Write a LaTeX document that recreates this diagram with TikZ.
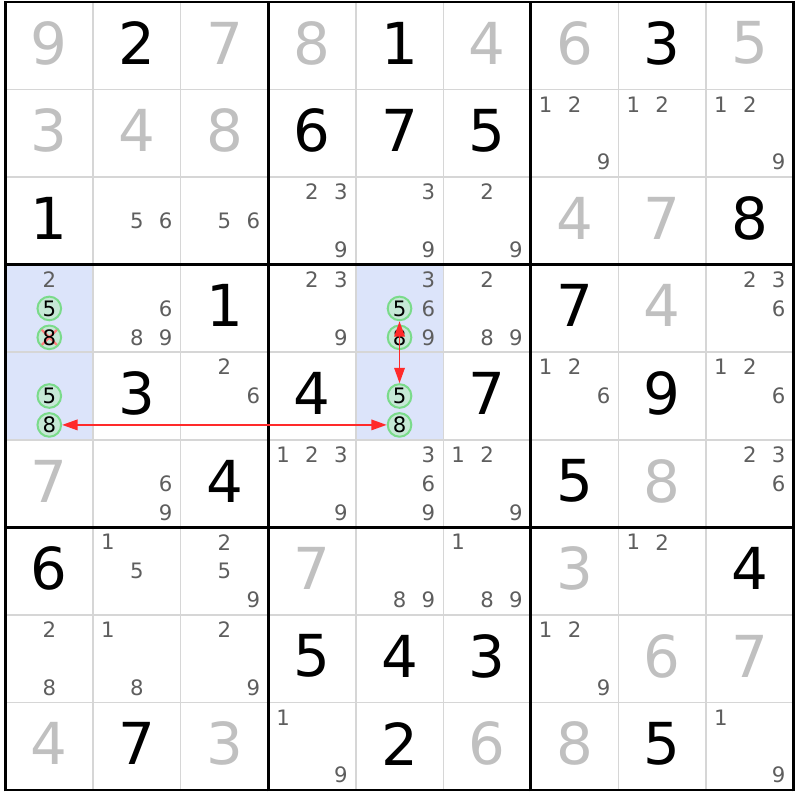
\documentclass[tikz,border=0pt]{standalone}
\usepackage{fontspec}
\setmainfont{DejaVu Sans}
\usetikzlibrary{arrows.meta}
\definecolor{hlblue}{HTML}{DCE4FA}
\definecolor{candgray}{HTML}{5E5E5E}
\definecolor{givengray}{HTML}{C0C0C0}
\definecolor{gridgray}{HTML}{D6D6D6}
\definecolor{ringgreen}{HTML}{7ADB8A}
\definecolor{ringfill}{HTML}{C6E8D6}
\definecolor{linkred}{HTML}{FF2A2A}

\begin{document}
\begin{tikzpicture}[x=1cm, y=1cm,
    digit/.style={font=\fontsize{18.8}{20}\selectfont, inner sep=0pt},
    cand/.style={font=\fontsize{6.9}{8}\selectfont, text=candgray, inner sep=0pt},
    ring/.style={circle, draw=ringgreen, fill=ringfill, line width=0.65pt,
      minimum size=0.27cm, inner sep=0pt, font=\fontsize{6.9}{8}\selectfont, text=black},
    gone/.style={path picture={
      \draw[linkred!60, line width=0.75pt]
        ([shift={(0.035,-0.035)}]path picture bounding box.north west) --
        ([shift={(-0.035,0.035)}]path picture bounding box.south east)
        ([shift={(0.035,0.035)}]path picture bounding box.south west) --
        ([shift={(-0.035,-0.035)}]path picture bounding box.north east);}},
    mark-418/.style={gone},
    link/.style={draw=linkred, line width=0.6pt,
      {Triangle[length=5pt,width=3.4pt]}-{Triangle[length=5pt,width=3.4pt]}}]
  % picture frame
  \useasboundingbox (-0.063,-0.114) rectangle (9.051,9.023);
  \fill[white] (-0.063,-0.114) rectangle (9.051,9.023);
  % highlighted cells
  \foreach \r/\c in {4/1,5/1,4/5,5/5}
    \fill[hlblue] (\c-1,9-\r) rectangle (\c,10-\r);
  % thin grid
  \foreach \i in {1,...,8} {
    \draw[gridgray, line width=0.5pt] (\i,0) -- (\i,9);
    \draw[gridgray, line width=0.5pt] (0,\i) -- (9,\i);
  }
  % box lines
  \foreach \i in {0,3,6,9} {
    \draw[black, line width=0.95pt] (\i,-0.016) -- (\i,9.016);
    \draw[black, line width=0.95pt] (-0.016,\i) -- (9.016,\i);
  }
  % given and solved digits
  \foreach \r/\c/\d/\col in {
      1/1/9/givengray, 1/2/2/black, 1/3/7/givengray, 1/4/8/givengray, 1/5/1/black,
      1/6/4/givengray, 1/7/6/givengray, 1/8/3/black, 1/9/5/givengray,
      2/1/3/givengray, 2/2/4/givengray, 2/3/8/givengray, 2/4/6/black, 2/5/7/black, 2/6/5/black,
      3/1/1/black, 3/7/4/givengray, 3/8/7/givengray, 3/9/8/black,
      4/3/1/black, 4/7/7/black, 4/8/4/givengray,
      5/2/3/black, 5/4/4/black, 5/6/7/black, 5/8/9/black,
      6/1/7/givengray, 6/3/4/black, 6/7/5/black, 6/8/8/givengray,
      7/1/6/black, 7/4/7/givengray, 7/7/3/givengray, 7/9/4/black,
      8/4/5/black, 8/5/4/black, 8/6/3/black, 8/8/6/givengray, 8/9/7/givengray,
      9/1/4/givengray, 9/2/7/black, 9/3/3/givengray, 9/5/2/black, 9/6/6/givengray,
      9/7/8/givengray, 9/8/5/black}
    \node[digit, text=\col] (d-\r-\c) at (\c-0.5, 9.53-\r) {\d};
  % pencil marks
  \foreach \r/\c/\ks in {
      2/7/{1,2,9}, 2/8/{1,2}, 2/9/{1,2,9},
      3/2/{5,6}, 3/3/{5,6}, 3/4/{2,3,9}, 3/5/{3,9}, 3/6/{2,9},
      4/1/{2}, 4/2/{6,8,9}, 4/4/{2,3,9}, 4/5/{3,6,9}, 4/6/{2,8,9}, 4/9/{2,3,6},
      5/3/{2,6}, 5/7/{1,2,6}, 5/9/{1,2,6},
      6/2/{6,9}, 6/4/{1,2,3,9}, 6/5/{3,6,9}, 6/6/{1,2,9}, 6/9/{2,3,6},
      7/2/{1,5}, 7/3/{2,5,9}, 7/5/{8,9}, 7/6/{1,8,9}, 7/8/{1,2},
      8/1/{2,8}, 8/2/{1,8}, 8/3/{2,9}, 8/7/{1,2,9},
      9/4/{1,9}, 9/9/{1,9}}
    \foreach \k in \ks {
      \pgfmathsetmacro\dx{(mod(\k-1,3)-1)*0.33}
      \pgfmathsetmacro\dy{-(floor((\k-1)/3)-1)*0.33}
      \node[cand] (k-\r-\c-\k) at (\c-0.5+\dx, 9.5-\r+\dy) {\k};
    }
  % chain candidates
  \foreach \r/\c in {4/1,5/1,4/5,5/5}
    \foreach \k in {5,8} {
      \pgfmathsetmacro\dx{(mod(\k-1,3)-1)*0.33}
      \pgfmathsetmacro\dy{-(floor((\k-1)/3)-1)*0.33}
      \node[ring, mark-\r\c\k/.try] (ring-\r-\c-\k) at (\c-0.5+\dx, 9.5-\r+\dy) {\k};
    }
  % links
  \draw[link] (ring-4-5-5) -- (ring-5-5-5);
  \draw[link] (ring-5-1-8) -- (ring-5-5-8);
\end{tikzpicture}
\end{document}
